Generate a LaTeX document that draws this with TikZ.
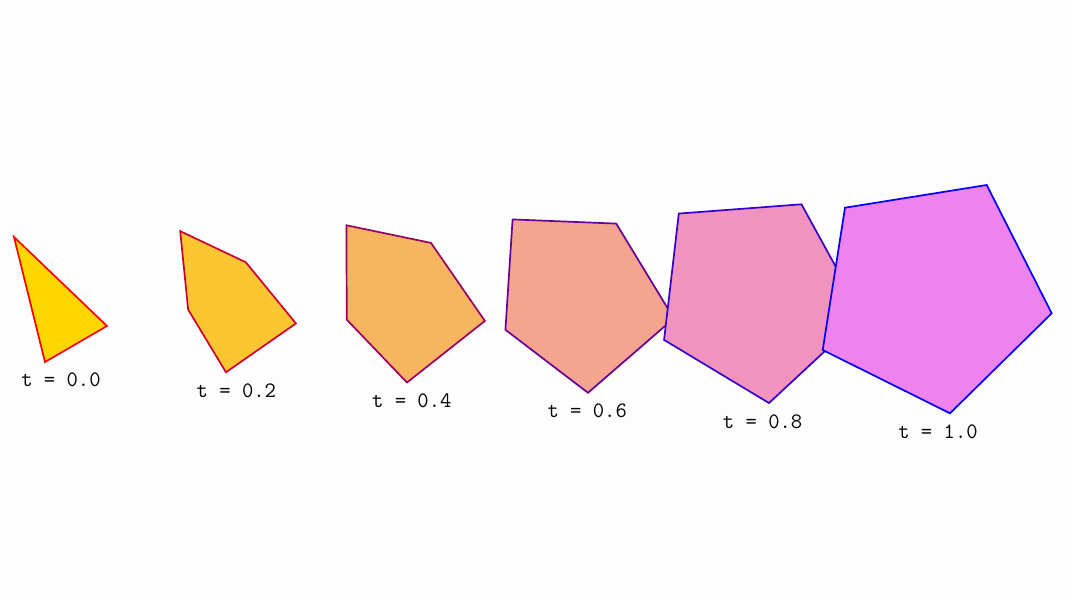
\documentclass[tikz,border=0pt]{standalone}
\usepackage{tikz}
\usetikzlibrary{calc}

\definecolor{pagebg}{RGB}{253,253,253}
\definecolor{startfill}{RGB}{255,215,0}
\definecolor{endfill}{RGB}{238,130,238}

\begin{document}
\begin{tikzpicture}[
    x=0.5pt, y=-0.5pt,
    % Style for the polygons
    polygon/.style={
        draw,
        line width=0.85pt,
        line join=miter
    },
    % Style for the labels
    tlabel/.style={
        font=\fontsize{11}{13}\selectfont\ttfamily,
        inner sep=0pt
    }
]

    % --- Canvas ---
    \fill[pagebg] (0,0) rectangle (1066,600);
    \useasboundingbox (0,0) rectangle (1066,600);

    % --- Settings ---
    \def\stepx{175.4}
    \def\stepy{10.4}

    % --- Start shape (triangle, two points on its edges) ---
    \coordinate (A0) at (-47,-143);
    \coordinate (B0) at (-0.5,-98.5);
    \coordinate (C0) at (46,-54);
    \coordinate (D0) at (-16,-18);
    \coordinate (E0) at (-31.5,-80.5);

    % --- End shape (pentagon) ---
    \coordinate (A1) at (-93,-224.3);
    \coordinate (B1) at (48.7,-247);
    \coordinate (C1) at (113.7,-118.7);
    \coordinate (D1) at (12,-18.7);
    \coordinate (E1) at (-115.3,-82);

    % --- Draw the in-between shapes ---
    \foreach \k/\tval in {0/0.0, 1/0.2, 2/0.4, 3/0.6, 4/0.8, 5/1.0} {
        \pgfmathsetmacro{\t}{\k/5}
        \pgfmathtruncatemacro{\pct}{20*\k}
        \pgfmathsetmacro{\dx}{61+\k*\stepx}
        \pgfmathsetmacro{\dy}{380+\k*\stepy}
        \colorlet{polyfill}{endfill!\pct!startfill}
        \colorlet{polyline}{blue!\pct!red}

        \draw[polygon, draw=polyline, fill=polyfill]
            ($(A0)!\t!(A1) + (\dx,\dy)$) --
            ($(B0)!\t!(B1) + (\dx,\dy)$) --
            ($(C0)!\t!(C1) + (\dx,\dy)$) --
            ($(D0)!\t!(D1) + (\dx,\dy)$) --
            ($(E0)!\t!(E1) + (\dx,\dy)$) -- cycle;

        \node[tlabel] (lbl\k) at (\dx,\dy) {t = \tval};
    }

\end{tikzpicture}
\end{document}
